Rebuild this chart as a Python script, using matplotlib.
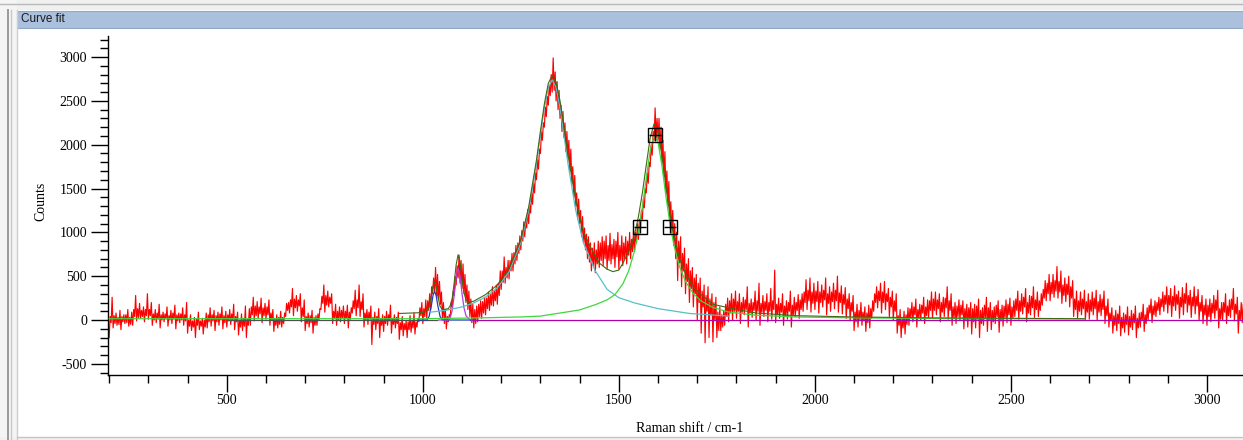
import numpy as np
import matplotlib
matplotlib.use("Agg")
import matplotlib.pyplot as plt
from matplotlib.patches import Rectangle
from matplotlib.lines import Line2D
from matplotlib.ticker import MultipleLocator

plt.rcParams["axes.unicode_minus"] = False

# ---------------- data ----------------
# Raw Raman spectrum, drawn as min / max of every 5 cm-1 bin
bin_start = np.arange(200, 3100, 5)
counts_min = [
    -200, -30, -90, -40, -60, -50, -110, -20, -40, -30, -70, -50, -60, 40, -10, 30, 20, 40, -20, 50,
    10, 50, -60, 0, -30, 10, -90, 0, -20, 10, -70, 0, -40, 10, -100, -10, -30, 0, -60, -10,
    -150, -70, -120, -80, -200, -60, -110, -70, -160, -80, -90, -20, -70, -10, -120, -20, -60, 0, -100, -30,
    -80, -10, -50, 0, -110, -20, -170, -80, -120, -70, -200, -60, -60, 60, -10, 50, 20, 70, -30, 50,
    10, 60, -60, 0, -130, -60, -90, -50, -80, -40, 40, 110, 80, 150, 50, 140, 100, 160, -20, 40,
    -120, -40, -80, -30, -150, -60, -60, 0, 120, 190, 90, 170, 150, 190, -40, 20, -60, 0, -20, 20,
    -40, 20, -90, 10, 80, 130, 50, 140, 40, 120, -80, 0, -50, 10, -280, -50, -110, -40, -200, -60,
    -130, -40, -60, -10, -150, -50, -90, -40, -220, -110, -180, -110, -200, -110, -140, -90, -160, -80, -20, 50,
    -40, 40, 20, 110, 120, 300, 330, 280, 240, 180, 20, -40, -100, -20, 40, 150, 280, 400, 480, 420,
    360, 300, 200, 120, 40, -30, -90, -40, -20, 40, 20, 80, 60, 130, 110, 170, 160, 220, 180, 280,
    350, 430, 420, 480, 470, 560, 560, 640, 680, 760, 800, 900, 950, 1050, 1100, 1220, 1320, 1450, 1600, 1720,
    1900, 2050, 2200, 2320, 2450, 2560, 2600, 2620, 2500, 2400, 2300, 2150, 2080, 1920, 1850, 1700, 1560, 1400, 1300, 1150,
    1100, 950, 880, 800, 700, 660, 560, 620, 540, 640, 600, 680, 620, 700, 580, 680, 640, 700, 600, 720,
    580, 680, 620, 700, 640, 740, 700, 780, 780, 880, 920, 1050, 1150, 1280, 1450, 1560, 1750, 1880, 2050, 2080,
    2050, 1950, 1800, 1650, 1450, 1300, 1120, 1000, 850, 700, 450, 650, 380, 560, 300, 440, 200, 360, 150, 300,
    0, 200, -150, 150, -260, 100, -200, 60, -250, 0, -200, -120, -120, -80, -60, 40, -20, 80, 0, 100,
    20, 100, -40, 90, 60, 120, -80, 80, 30, 110, 0, 100, -60, 90, 40, 110, -20, 100, 10, 120,
    -30, 60, 20, 90, -60, 50, 10, 100, -80, 60, 40, 110, 20, 120, 100, 200, 120, 220, 90, 190,
    120, 210, 80, 200, 150, 230, 60, 190, 100, 210, 130, 220, 90, 200, 70, 180, 20, 130, -10, 100,
    -120, -20, -80, 0, -60, -10, -130, -30, -90, 20, 100, 200, 140, 220, 80, 200, 120, 210, 40, 150,
    0, 100, -150, -60, -200, -90, -160, -50, -60, 30, -20, 60, -80, 20, 0, 80, -40, 50, 20, 110,
    20, 110, 60, 130, -20, 90, 40, 140, 10, 110, -60, 30, -40, 40, 0, 60, -100, 0, -80, 10,
    -160, -20, -90, 10, -200, -40, -60, 30, -130, 0, -110, -20, -40, 40, -140, -10, -70, 30, -30, 60,
    -60, 20, 40, 110, 10, 100, 70, 150, -20, 80, 60, 140, 30, 120, 40, 110, 170, 250, 220, 300,
    220, 300, 260, 330, 250, 320, 190, 280, 210, 290, 150, 250, 40, 120, 20, 100, 60, 130, 0, 90,
    10, 100, 60, 130, 0, 90, 50, 120, -40, 50, -80, -10, -150, -60, -120, -40, -180, -90, -140, -50,
    -170, -80, -110, -30, -200, -90, -80, 0, -130, -40, 0, 80, -30, 60, 40, 110, 60, 150, 100, 180,
    80, 170, 40, 160, 110, 180, 20, 150, 60, 190, 90, 170, 30, 160, 70, 160, 0, 100, -40, 60,
    -60, 40, -20, 80, 20, 110, -90, 10, 0, 90, -40, 50, 30, 120, -10, 70, -150, 0, -30, 60,
]
counts_max = [
    40, 260, 50, 80, 30, 110, 40, 60, 60, 120, 30, 90, 120, 280, 130, 190, 110, 150, 120, 300,
    120, 200, 70, 120, 80, 180, 60, 90, 70, 150, 50, 110, 80, 170, 60, 80, 70, 140, 60, 200,
    0, 60, -10, 30, 10, 90, -10, 20, 0, 80, 60, 140, 60, 110, 50, 90, 70, 150, 50, 100,
    60, 120, 70, 180, 40, 90, 0, 70, 20, 160, 10, 130, 150, 260, 160, 210, 150, 250, 140, 190,
    150, 230, 80, 120, 20, 60, 30, 100, 30, 80, 190, 200, 230, 360, 240, 280, 230, 300, 140, 230,
    40, 80, 50, 110, 30, 50, 70, 130, 270, 400, 280, 330, 260, 300, 100, 180, 100, 150, 110, 160,
    100, 170, 90, 140, 220, 340, 230, 400, 210, 300, 80, 120, 90, 160, 30, 90, 40, 130, 20, 60,
    40, 100, 60, 170, 20, 60, 30, 90, -30, 40, -40, -10, -20, 50, -10, 80, -20, 20, 140, 200,
    130, 230, 220, 300, 380, 480, 600, 520, 440, 320, 200, 120, 40, 60, 200, 330, 500, 620, 740, 680,
    640, 520, 400, 330, 240, 180, 120, 160, 180, 220, 210, 260, 250, 320, 290, 380, 330, 400, 420, 560,
    560, 720, 600, 680, 680, 760, 770, 850, 880, 960, 1020, 1120, 1150, 1260, 1320, 1450, 1560, 1680, 1830, 1950,
    2150, 2250, 2430, 2550, 2680, 2800, 2990, 2830, 2720, 2620, 2450, 2380, 2250, 2150, 2050, 1950, 1750, 1650, 1450, 1380,
    1250, 1180, 1050, 980, 950, 880, 820, 880, 800, 900, 880, 950, 900, 960, 850, 990, 860, 920, 900, 1000,
    850, 960, 880, 950, 900, 1000, 920, 1020, 1000, 1100, 1150, 1250, 1380, 1500, 1680, 1800, 2000, 2150, 2420, 2300,
    2300, 2200, 2050, 1920, 1700, 1580, 1350, 1250, 1100, 1000, 900, 950, 760, 820, 640, 700, 560, 600, 480, 520,
    420, 480, 330, 400, 280, 380, 240, 300, 200, 260, 90, 150, 60, 100, 180, 250, 220, 300, 240, 330,
    210, 300, 200, 260, 230, 380, 190, 240, 200, 330, 220, 420, 190, 280, 210, 300, 200, 360, 220, 570,
    180, 250, 190, 300, 160, 220, 200, 330, 170, 260, 200, 290, 230, 300, 320, 460, 340, 480, 320, 420,
    330, 440, 320, 400, 340, 480, 300, 380, 320, 420, 340, 500, 310, 390, 290, 370, 240, 300, 200, 280,
    90, 180, 110, 200, 90, 150, 80, 170, 130, 220, 300, 380, 330, 420, 320, 440, 300, 360, 260, 330,
    220, 300, 50, 120, 30, 100, 60, 140, 130, 200, 150, 240, 120, 180, 170, 260, 150, 230, 220, 320,
    240, 320, 230, 300, 200, 260, 250, 380, 220, 300, 150, 200, 160, 230, 170, 220, 130, 180, 140, 200,
    130, 180, 160, 240, 110, 140, 170, 260, 140, 200, 110, 150, 170, 220, 120, 170, 160, 230, 180, 250,
    150, 220, 240, 330, 220, 300, 260, 360, 200, 280, 270, 380, 230, 320, 220, 300, 350, 450, 420, 520,
    430, 520, 450, 610, 440, 560, 400, 480, 410, 500, 380, 450, 240, 330, 220, 320, 240, 340, 210, 300,
    230, 320, 250, 340, 210, 290, 240, 330, 160, 240, 80, 140, 50, 110, 70, 160, 30, 80, 60, 150,
    40, 110, 70, 160, 20, 80, 90, 180, 60, 140, 170, 240, 160, 220, 200, 260, 240, 320, 280, 380,
    280, 360, 270, 390, 290, 330, 260, 370, 300, 420, 280, 340, 260, 380, 270, 350, 200, 280, 170, 240,
    170, 240, 190, 280, 230, 340, 130, 200, 200, 300, 160, 230, 240, 360, 180, 260, 110, 200, 180, 330,
]

# Overall fitted curve
fit_shift = [940, 1000, 1010, 1016, 1022, 1026, 1030, 1034, 1038, 1044,
             1050, 1060, 1065, 1070, 1075, 1080, 1085, 1090, 1095, 1100,
             1105, 1110, 1118, 1125, 1130, 1160, 1190, 1220, 1250, 1270,
             1290, 1300, 1310, 1320, 1330, 1340, 1350, 1360, 1370, 1390,
             1410, 1430, 1450, 1470, 1485, 1500, 1510, 1525, 1540, 1550,
             1560, 1570, 1580, 1590, 1600, 1610, 1620, 1630, 1640, 1655,
             1670, 1690, 1710, 1740, 1780, 1850, 1950, 2100, 2300, 2690]
fit_counts = [75, 85, 105, 145, 275, 385, 435, 385, 280, 155,
              120, 125, 130, 165, 250, 425, 630, 745, 660, 470,
              315, 230, 200, 210, 215, 290, 400, 590, 915, 1290,
              1830, 2155, 2465, 2700, 2790, 2710, 2500, 2200, 1890, 1370,
              1000, 810, 650, 580, 552, 570, 645, 780, 975, 1180,
              1450, 1770, 2080, 2240, 2150, 1870, 1525, 1215, 965, 700,
              530, 380, 290, 180, 140, 80, 50, 35, 25, 15]

# G band component
g_shift = [200, 1000, 1150, 1250, 1300, 1350, 1400, 1440, 1470, 1490,
           1510, 1525, 1540, 1550, 1560, 1570, 1580, 1590, 1600, 1610,
           1620, 1630, 1640, 1655, 1670, 1690, 1710, 1740, 1780, 1850,
           1950, 2100, 2300, 2690]
g_counts = [15, 15, 25, 35, 45, 80, 115, 175, 230, 290,
            410, 560, 790, 1010, 1287, 1620, 1936, 2105, 2029, 1756,
            1415, 1110, 865, 606, 440, 301, 217, 143, 92, 55,
            35, 25, 18, 12]

# D band component
d_shift = [1020, 1060, 1100, 1130, 1160, 1190, 1220, 1250, 1270, 1290,
           1300, 1310, 1320, 1330, 1340, 1350, 1360, 1370, 1390, 1410,
           1440, 1470, 1500, 1540, 1600, 1680, 1780]
d_counts = [90, 112, 150, 195, 262, 368, 550, 880, 1251, 1791,
            2112, 2420, 2652, 2740, 2652, 2420, 2112, 1791, 1251, 878,
            560, 350, 255, 195, 130, 75, 45]

# small component near 1090 cm-1
p_shift = [1040, 1065, 1070, 1075, 1080, 1085, 1090, 1095, 1100, 1105, 1110, 1118, 1125]
p_counts = [0, 0, 30, 110, 280, 480, 590, 500, 300, 140, 50, 10, 0]

# small component near 1030 cm-1
b_shift = [990, 1010, 1016, 1022, 1026, 1030, 1034, 1038, 1044, 1050, 1125]
b_counts = [0, 0, 40, 170, 280, 330, 280, 170, 40, 0, 0]

# baselines
base_shift = [1120, 3092]
base_counts = [0, 0]
grey_shift = [500, 1035]
grey_counts = [0, 0]

# peak handles (G band)
marker_shift = [1554, 1592, 1631]
marker_counts = [1060, 2110, 1060]

x_ticks = [500, 1000, 1500, 2000, 2500, 3000]
y_ticks = [-500, 0, 500, 1000, 1500, 2000, 2500, 3000]

# ---------------- figure ----------------
W, H = 1243, 440
fig = plt.figure(figsize=(W / 100, H / 100), dpi=100)
fig.patch.set_facecolor("white")


def fx(px):
    return px / W


def fy(py):
    return 1 - py / H


# window chrome
fig.add_artist(Rectangle((0, fy(10)), 1, 10 / H, transform=fig.transFigure,
                         facecolor="#f0f0f0", edgecolor="none", zorder=0))
fig.add_artist(Line2D([0, 1], [fy(4), fy(4)], transform=fig.transFigure,
                      color="#b8b8b8", lw=1))
fig.add_artist(Rectangle((0, 0), fx(17), 1, transform=fig.transFigure,
                         facecolor="#f4f4f4", edgecolor="none", zorder=0))
for px, c, lw in [(8, "#9a9a9a", 1.4), (11, "#c8c8c8", 1.0), (17, "#cfcfcf", 1.0)]:
    fig.add_artist(Line2D([fx(px), fx(px)], [fy(440), fy(10)], transform=fig.transFigure,
                          color=c, lw=lw))
fig.add_artist(Rectangle((fx(17), fy(28)), 1 - fx(17), 17 / H, transform=fig.transFigure,
                         facecolor="#aac0dd", edgecolor="#8fa8c8", lw=0.8))
fig.text(fx(21), fy(19.5), "Curve fit", ha="left", va="center", fontsize=8.5,
         family="Liberation Sans", color="#1a1a1a")
fig.add_artist(Rectangle((0, 0), 1, 3 / H, transform=fig.transFigure,
                         facecolor="#f0f0f0", edgecolor="none", zorder=0))
fig.add_artist(Line2D([fx(17), 1], [fy(437), fy(437)], transform=fig.transFigure,
                      color="#c4c4c4", lw=1))

# axes
ax = fig.add_axes([fx(108), fy(375), 1 - fx(108), (375 - 36) / H])
ax.set_facecolor("white")
ax.set_xlim(197, 3092)
ax.set_ylim(-627, 3240)

xs = np.column_stack([bin_start, bin_start + 2.5]).ravel()
ys = np.column_stack([counts_min, counts_max]).ravel()
ax.plot(xs, ys, color="#ff0000", lw=0.85, zorder=2)

ax.plot(grey_shift, grey_counts, color="#505050", lw=0.9, zorder=3)
ax.plot(base_shift, base_counts, color="#b000b0", lw=0.9, zorder=3)
ax.plot(b_shift, b_counts, color="#2838c8", lw=0.9, zorder=3)
ax.plot(p_shift, p_counts, color="#b040d8", lw=0.9, zorder=3)
ax.plot(d_shift, d_counts, color="#56c0c8", lw=0.9, zorder=3)
ax.plot(g_shift, g_counts, color="#3cd83c", lw=0.9, zorder=3)
ax.plot(fit_shift, fit_counts, color="#3d6b12", lw=0.8, zorder=4)

ax.plot(marker_shift, marker_counts, ls="none", marker="s", ms=9.5, mfc="none",
        mec="black", mew=1.0, zorder=5)
ax.plot(marker_shift, marker_counts, ls="none", marker="+", ms=8, mec="black",
        mew=1.0, zorder=5)

for s in ["top", "right"]:
    ax.spines[s].set_visible(False)
for s in ["left", "bottom"]:
    ax.spines[s].set_linewidth(1.0)

ax.set_xticks(x_ticks)
ax.set_yticks(y_ticks)
ax.xaxis.set_minor_locator(MultipleLocator(100))
ax.yaxis.set_minor_locator(MultipleLocator(100))
ax.tick_params(which="major", direction="out", length=12, width=1.0, pad=3,
               labelsize=10, labelfontfamily="Liberation Serif")
ax.tick_params(axis="x", which="major", pad=2)
ax.tick_params(which="minor", direction="out", length=6, width=1.0)

ax.set_ylabel("Counts", family="Liberation Serif", fontsize=10)
ax.set_xlabel("Raman shift / cm-1", family="Liberation Serif", fontsize=10)
ax.yaxis.set_label_coords((47 - 108) / (W - 108), (375 - 201) / (375 - 36))
ax.xaxis.set_label_coords((690 - 108) / (W - 108), -(422 - 375) / (375 - 36))

fig.savefig("out.png", dpi=100)
